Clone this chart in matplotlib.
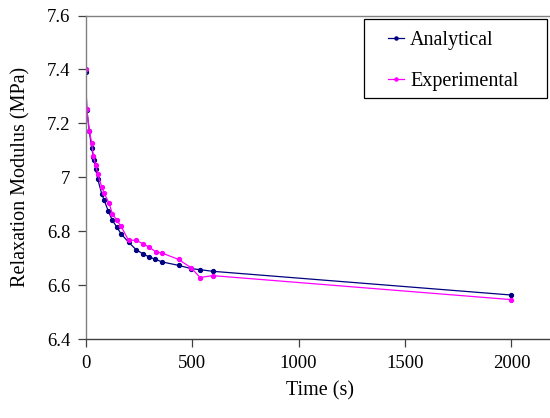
import matplotlib.pyplot as plt
from matplotlib.patches import Rectangle
from matplotlib.ticker import FuncFormatter

plt.rcParams['font.family'] = ['Liberation Serif', 'DejaVu Serif']

# values
t_analytical = [0, 6, 18, 29, 37, 40, 48, 57, 76, 87, 107, 126, 147, 166, 202,
                238, 269, 299, 327, 358, 437, 496, 538, 597, 2000]
e_analytical = [7.39, 7.251, 7.171, 7.11, 7.075, 7.064, 7.03, 6.995, 6.94, 6.917,
                6.875, 6.841, 6.816, 6.792, 6.76, 6.732, 6.717, 6.705, 6.697,
                6.687, 6.674, 6.662, 6.658, 6.652, 6.564]

t_experimental = [0, 6, 18, 29, 37, 47, 57, 76, 87, 110, 126, 147, 166, 202, 238,
                  269, 299, 330, 358, 437, 496, 538, 597, 2000]
e_experimental = [7.40, 7.253, 7.171, 7.128, 7.079, 7.046, 7.014, 6.965, 6.943,
                  6.905, 6.866, 6.841, 6.82, 6.767, 6.767, 6.754, 6.742, 6.724,
                  6.72, 6.696, 6.665, 6.629, 6.636, 6.547]

W, H = 550, 418
fig = plt.figure(figsize=(W / 100, H / 100), dpi=100)
ax = fig.add_axes([85.5 / W, 1 - 339.3 / H, 0.852, (339.3 - 15.5) / H])

ax.plot(t_analytical, e_analytical, color='#000080', marker='o', markersize=2.8,
        linewidth=0.9, label='Analytical')
ax.plot(t_experimental, e_experimental, color='#FF00FF', marker='o', markersize=2.8,
        linewidth=0.9, label='Experimental')

ax.set_xlim(0, 2200)
ax.set_ylim(6.4, 7.6)
ax.set_xticks([0, 500, 1000, 1500, 2000])
ax.set_yticks([6.4, 6.6, 6.8, 7.0, 7.2, 7.4, 7.6])
ax.yaxis.set_major_formatter(FuncFormatter(lambda v, p: '%g' % round(v, 2)))

for side in ['top', 'right', 'left', 'bottom']:
    ax.spines[side].set_color('#808080')
    ax.spines[side].set_linewidth(1.0)
ax.spines['bottom'].set_color('#404040')
ax.tick_params(direction='out', length=6, width=0.9, color='#404040',
               labelsize=13.5, pad=5)

ax.set_xlabel('Time (s)', fontsize=14.5, labelpad=7)
ax.set_ylabel('Relaxation Modulus (MPa)', fontsize=14.5, labelpad=12)

# legend box drawn like the spreadsheet one: wide left margin
fig.patches.append(Rectangle((364 / W, 1 - 98 / H), 183 / W, 79 / H,
                             transform=fig.transFigure, fill=False,
                             edgecolor='black', linewidth=0.9))
leg = ax.legend(loc='upper left', bbox_to_anchor=(388 / W, 1 - 31 / H),
                bbox_transform=fig.transFigure, fontsize=14.5, frameon=False,
                handlelength=0.8, handletextpad=0.3, labelspacing=1.1,
                borderpad=0, borderaxespad=0, markerscale=0.8)

fig.savefig('out.png', dpi=100)
